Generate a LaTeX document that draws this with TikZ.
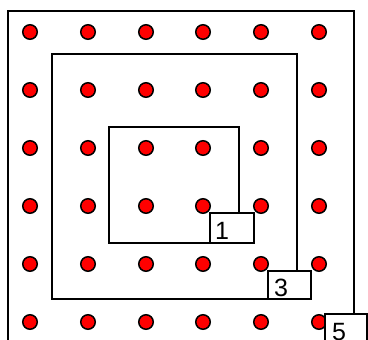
\documentclass[tikz,border=0pt]{standalone}
\usepackage{fontspec}
\setmainfont{Liberation Sans}
\begin{document}
\begin{tikzpicture}[x=1pt,y=-1pt,
  dot/.style={circle,fill=red,draw=black,line width=1.5pt,minimum size=14.5pt,inner sep=0pt},
  wall/.style={draw=black,line width=2pt},
  labelbox/.style={rectangle,fill=white,draw=black,line width=2pt,inner sep=0pt,outer sep=0pt,anchor=north west},
  labeltext/.style={anchor=base west,inner sep=0pt,font=\fontsize{25}{25}\selectfont}]
\useasboundingbox (0,0) rectangle (368,340);
% dots
\foreach \c [count=\i] in {30,88,146,203,261,319}{
  \foreach \r [count=\j] in {32,90,148,206,264,322}{
    \node[dot] (d\i\j) at (\c,\r) {};
  }
}
% label boxes (background)
\node[labelbox,minimum width=44pt,minimum height=30pt] (b1) at (210,213) {};
\node[labelbox,minimum width=43pt,minimum height=28pt] (b3) at (268,271) {};
\node[labelbox,minimum width=42pt,minimum height=30pt] (b5) at (325,314) {};
% walls
\coordinate (c1) at (239,213);
\coordinate (c3) at (297,271);
\coordinate (c5) at (354,314);
\draw[wall] (c1) -- (239,127) -- (109,127) -- (109,243) -- (b1.south west);
\draw[wall] (c3) -- (297,54) -- (52,54) -- (52,299) -- (b3.south west);
\draw[wall] (c5) -- (354,11) -- (8,11) -- (8,345);
% label texts
\begin{scope}
\clip (b1.north west) rectangle (b1.south east);
\node[labeltext] (t1) at (215,240) {1};
\end{scope}
\begin{scope}
\clip (b3.north west) rectangle (b3.south east);
\node[labeltext] (t3) at (274,297) {3};
\end{scope}
\begin{scope}
\clip (b5.north west) rectangle (b5.south east);
\node[labeltext] (t5) at (332,341) {5};
\end{scope}
% box borders on top
\draw[wall] (b1.north west) rectangle (b1.south east);
\draw[wall] (b3.north west) rectangle (b3.south east);
\draw[wall] (b5.north west) rectangle (b5.south east);
\end{tikzpicture}
\end{document}
